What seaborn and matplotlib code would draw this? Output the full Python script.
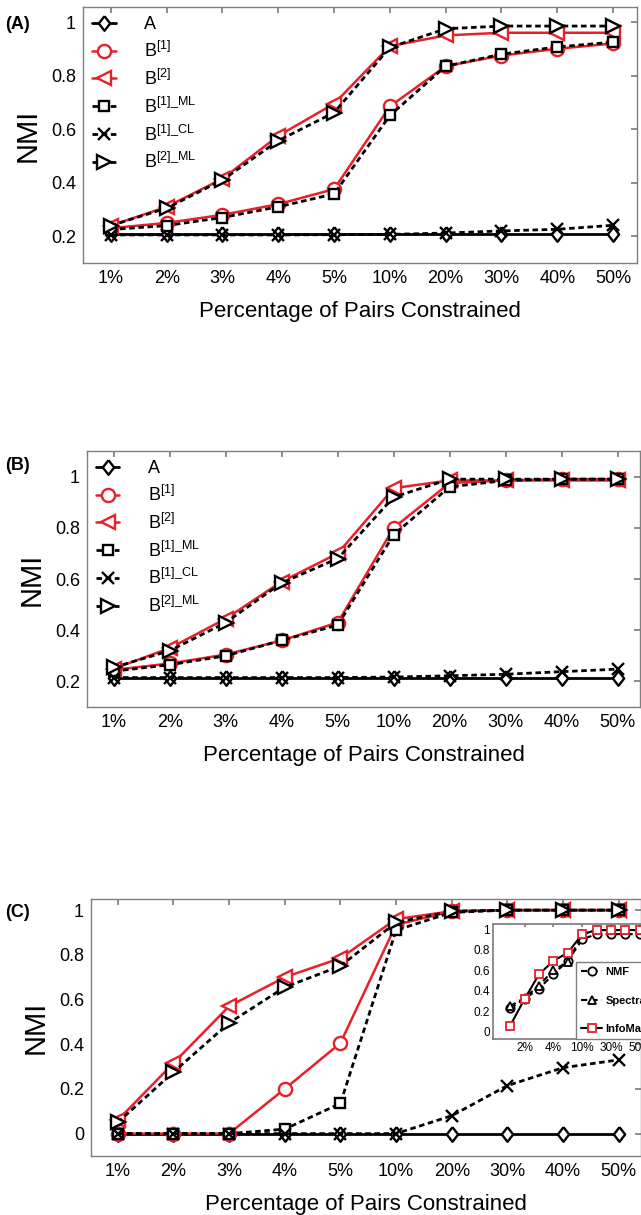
import numpy as np
import pandas as pd
import seaborn as sns
import matplotlib
matplotlib.use("Agg")
from matplotlib import pyplot as plt
from matplotlib.ticker import FuncFormatter

# x categories
pct = ['1%', '2%', '3%', '4%', '5%', '10%', '20%', '30%', '40%', '50%']

# panel (A)
a_A = [0.207, 0.207, 0.207, 0.207, 0.207, 0.207, 0.207, 0.207, 0.207, 0.207]
a_B1 = [0.23, 0.25, 0.28, 0.32, 0.376, 0.685, 0.835, 0.875, 0.90, 0.92]
a_B2 = [0.24, 0.31, 0.415, 0.575, 0.695, 0.91, 0.95, 0.96, 0.96, 0.96]
a_B1ML = [0.225, 0.24, 0.27, 0.31, 0.358, 0.651, 0.835, 0.88, 0.907, 0.925]
a_B1CL = [0.205, 0.205, 0.205, 0.205, 0.206, 0.207, 0.212, 0.22, 0.226, 0.241]
a_B2ML = [0.24, 0.305, 0.41, 0.557, 0.662, 0.905, 0.975, 0.985, 0.985, 0.985]

# panel (B)
b_A = [0.215, 0.215, 0.215, 0.215, 0.215, 0.215, 0.215, 0.215, 0.215, 0.215]
b_B1 = [0.245, 0.27, 0.305, 0.36, 0.43, 0.80, 0.975, 0.985, 0.99, 0.99]
b_B2 = [0.25, 0.33, 0.445, 0.59, 0.70, 0.955, 0.985, 0.985, 0.985, 0.985]
b_B1ML = [0.24, 0.265, 0.30, 0.36, 0.42, 0.773, 0.96, 0.985, 0.99, 0.99]
b_B1CL = [0.215, 0.215, 0.215, 0.215, 0.215, 0.217, 0.222, 0.228, 0.238, 0.248]
b_B2ML = [0.255, 0.32, 0.43, 0.585, 0.68, 0.92, 0.99, 0.99, 0.99, 0.99]

# panel (C)
c_A = [0, 0, 0, 0, 0, 0, 0, 0, 0, 0]
c_B1 = [0, 0, 0, 0.2, 0.405, 0.935, 0.995, 1, 1, 1]
c_B2 = [0.06, 0.315, 0.57, 0.70, 0.785, 0.96, 0.995, 1, 1, 1]
c_B1ML = [0, 0, 0, 0.02, 0.135, 0.91, 0.99, 1, 1, 1]
c_B1CL = [0, 0, 0, 0, 0, 0, 0.08, 0.215, 0.295, 0.33]
c_B2ML = [0.05, 0.275, 0.495, 0.655, 0.75, 0.945, 0.995, 1, 1, 1]

# inset of (C)
ins_NMF = [0.23, 0.32, 0.42, 0.56, 0.69, 0.90, 0.95, 0.95, 0.95, 0.95]
ins_Spectral = [0.25, 0.33, 0.45, 0.60, 0.68, 0.95, 0.99, 0.99, 0.99, 0.99]
ins_InfoMap = [0.06, 0.32, 0.56, 0.69, 0.77, 0.95, 0.99, 0.99, 0.99, 0.99]

labels = ['A', r'B$^{\mathregular{[1]}}$', r'B$^{\mathregular{[2]}}$',
          r'B$^{\mathregular{[1]\_ML}}$', r'B$^{\mathregular{[1]\_CL}}$',
          r'B$^{\mathregular{[2]\_ML}}$']

RED = '#e8202a'
GREY = '#7f7f7f'
diamond = [(0, 1), (0.78, 0), (0, -1), (-0.78, 0), (0, 1)]
# color, marker, linestyle, markersize
styles = [
    ('black', diamond, '-', 10.5),
    (RED, 'o', '-', 9.5),
    (RED, '<', '-', 10),
    ('black', 's', (0, (2, 1.3)), 7.5),
    ('black', 'x', (0, (2, 1.3)), 9),
    ('black', '>', (0, (2, 1.3)), 10),
]

sns.set_theme(style='white')
plt.rcParams['font.family'] = ['Liberation Sans', 'DejaVu Sans']
plt.rcParams['mathtext.fontset'] = 'custom'
plt.rcParams['mathtext.rm'] = 'Liberation Sans'
plt.rcParams['text.color'] = 'black'
plt.rcParams['axes.labelcolor'] = 'black'
plt.rcParams['xtick.color'] = 'black'
plt.rcParams['ytick.color'] = 'black'

x = np.arange(len(pct))


def draw_panel(ax, series, ylim, yticks, xlim, legend=True):
    for vals, lab, (col, mk, ls, ms) in zip(series, labels, styles):
        df = pd.DataFrame({'x': x, 'nmi': vals})
        lw = 1.8 if col == RED else 2.0
        sns.lineplot(data=df, x='x', y='nmi', ax=ax, color=col, marker=mk,
                     linestyle=ls, linewidth=lw, markersize=ms,
                     markeredgecolor=col, markerfacecolor='white',
                     markeredgewidth=1.7, label=lab, legend=False)
    ax.set_xlim(*xlim)
    ax.set_ylim(*ylim)
    ax.set_xticks(x)
    ax.set_xticklabels(pct)
    ax.set_yticks(yticks)
    ax.yaxis.set_major_formatter(FuncFormatter(lambda v, p: f'{v:g}'))
    ax.tick_params(direction='in', top=True, right=True, length=4,
                   color=GREY, labelcolor='black', labelsize=13, pad=5)
    for sp in ax.spines.values():
        sp.set_color(GREY)
        sp.set_linewidth(1.0)
    ax.set_xlabel('Percentage of Pairs Constrained', fontsize=16, labelpad=10)
    ax.set_ylabel('NMI', fontsize=21, labelpad=7)
    if legend:
        ax.legend(loc='upper left', frameon=False, fontsize=13,
                  handlelength=1.3, handletextpad=1.6, labelspacing=0.43,
                  borderaxespad=0.2, borderpad=0.3)


fig = plt.figure(figsize=(6.41, 12.15), dpi=100)
axA = fig.add_axes([0.1295, 0.7835, 0.8643, 0.2107])
axB = fig.add_axes([0.1357, 0.4181, 0.8627, 0.2107])
axC = fig.add_axes([0.142, 0.0486, 0.858, 0.2115])

draw_panel(axA, [a_A, a_B1, a_B2, a_B1ML, a_B1CL, a_B2ML], (0.1, 1.056),
           [0.2, 0.4, 0.6, 0.8, 1.0], (-0.5, 9.43))
draw_panel(axB, [b_A, b_B1, b_B2, b_B1ML, b_B1CL, b_B2ML], (0.1, 1.1),
           [0.2, 0.4, 0.6, 0.8, 1.0], (-0.48, 9.4))
draw_panel(axC, [c_A, c_B1, c_B2, c_B1ML, c_B1CL, c_B2ML], (-0.1, 1.05),
           [0, 0.2, 0.4, 0.6, 0.8, 1.0], (-0.48, 9.4), legend=False)

fig.text(0.008, 0.980, '(A)', fontsize=13, fontweight='bold', va='center')
fig.text(0.008, 0.617, '(B)', fontsize=13, fontweight='bold', va='center')
fig.text(0.008, 0.2486, '(C)', fontsize=13, fontweight='bold', va='center')

# inset
axI = fig.add_axes([0.769, 0.1449, 0.245, 0.0947])
ins_styles = [
    (ins_NMF, 'NMF', 'o', (0, (3, 2)), 'black'),
    (ins_Spectral, 'Spectral', '^', (0, (3, 2)), 'black'),
    (ins_InfoMap, 'InfoMap', 's', '-', RED),
]
for vals, lab, mk, ls, mc in ins_styles:
    df = pd.DataFrame({'x': x, 'nmi': vals})
    sns.lineplot(data=df, x='x', y='nmi', ax=axI, color='black', marker=mk,
                 linestyle=ls, linewidth=1.5, markersize=6,
                 markeredgecolor=mc, markerfacecolor='white',
                 markeredgewidth=1.3, label=lab, legend=False)
axI.set_xlim(-1.2, 9.7)
axI.set_ylim(-0.07, 1.05)
axI.set_xticks(x[1::2])
axI.set_xticklabels(pct[1::2])
axI.set_yticks([0, 0.2, 0.4, 0.6, 0.8, 1.0])
axI.yaxis.set_major_formatter(FuncFormatter(lambda v, p: f'{v:g}'))
axI.tick_params(direction='in', top=True, right=True, length=2.5,
                color=GREY, labelcolor='black', labelsize=8.5, pad=2)
axI.set_xlabel('')
axI.set_ylabel('')
for sp in axI.spines.values():
    sp.set_color(GREY)
leg = axI.legend(loc='lower left', bbox_to_anchor=(0.53, 0.0),
                 prop={'weight': 'bold', 'size': 8}, handlelength=1.9,
                 handletextpad=0.3, labelspacing=1.65, borderaxespad=0.0,
                 borderpad=0.45, fancybox=False, framealpha=1, edgecolor=GREY)
leg.get_frame().set_linewidth(1.0)

plt.savefig('out.png', dpi=100)
